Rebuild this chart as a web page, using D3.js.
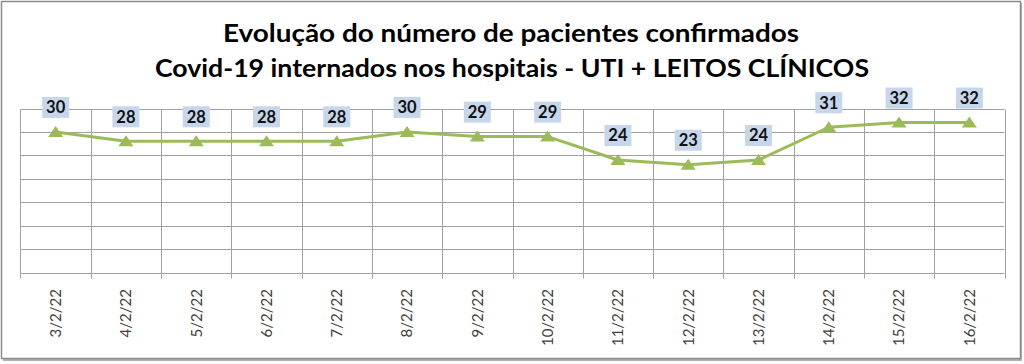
<!DOCTYPE html>
<html><head><meta charset="utf-8">
<script src="https://cdn.jsdelivr.net/npm/d3@7"></script>
<style>html,body{margin:0;padding:0;background:#fff;}svg{display:block;}</style>
</head><body>
<svg id="chart" width="1024" height="364"></svg>
<script>
const titleLines = ["Evolução do número de pacientes confirmados", "Covid-19 internados nos hospitais - UTI + LEITOS CLÍNICOS"];
const categories = ["3/2/22","4/2/22","5/2/22","6/2/22","7/2/22","8/2/22","9/2/22","10/2/22","11/2/22","12/2/22","13/2/22","14/2/22","15/2/22","16/2/22"];
const values = [30,28,28,28,28,30,29,29,24,23,24,31,32,32];
const yTicks = [0,5,10,15,20,25,30,35];

const svg = d3.select("#chart");
const m = {left: 20.5, right: 1004.5, top: 108.5, bottom: 272.5};

// outer frame with shadow
svg.append("rect").attr("x", 3).attr("y", 3).attr("width", 1019).attr("height", 358).attr("fill", "#b0b0b0");
svg.append("rect").attr("x", 1.5).attr("y", 1.5).attr("width", 1019).attr("height", 357)
  .attr("fill", "#fff").attr("stroke", "#8a8a8a").attr("stroke-width", 1.5);

const x = d3.scaleBand().domain(categories).range([m.left, m.right]).padding(0);
const y = d3.scaleLinear().domain([0, 35]).range([m.bottom, m.top]);

// horizontal grid
svg.append("g").selectAll("line").data(yTicks).join("line")
  .attr("x1", m.left).attr("x2", m.right)
  .attr("y1", d => Math.round(y(d)) + 0.5).attr("y2", d => Math.round(y(d)) + 0.5)
  .attr("stroke", "#a0a0a0").attr("stroke-width", 1);

// vertical grid at band boundaries, extending below as tick marks
const bounds = categories.map(c => x(c)).concat([x(categories[categories.length-1]) + x.bandwidth()]);
svg.append("g").selectAll("line").data(bounds).join("line")
  .attr("x1", d => Math.round(d) + 0.5).attr("x2", d => Math.round(d) + 0.5)
  .attr("y1", Math.round(m.top) + 0.5).attr("y2", m.bottom + 6)
  .attr("stroke", "#a0a0a0").attr("stroke-width", 1);

// x labels
svg.append("g").selectAll("text").data(categories).join("text")
  .attr("transform", d => `translate(${x(d) + x.bandwidth()/2},289) rotate(-90)`)
  .attr("text-anchor", "end").attr("dy", "0.36em")
  .attr("font-family", "Lato, 'Open Sans', sans-serif").attr("font-size", 15)
  .attr("fill", "#404040").text(d => d);

const cx = (d, i) => x(categories[i]) + x.bandwidth()/2;

// line
svg.append("path").datum(values)
  .attr("fill", "none").attr("stroke", "#9bbb59").attr("stroke-width", 3).attr("stroke-linejoin", "round")
  .attr("d", d3.line().x((d, i) => cx(d, i)).y(d => y(d)));

// markers
svg.append("g").selectAll("path").data(values).join("path")
  .attr("transform", (d, i) => `translate(${cx(d, i)},${y(d)})`)
  .attr("d", "M0,-6 L7.5,5 L-7.5,5 Z").attr("fill", "#9bbb59");

// data labels
const lg = svg.append("g").selectAll("g").data(values).join("g")
  .attr("transform", (d, i) => `translate(${cx(d, i)},${y(d) - 24.5})`);
lg.append("rect").attr("x", -13.5).attr("y", -10.5).attr("width", 27).attr("height", 21).attr("fill", "#c6d7eb");
lg.append("text").attr("text-anchor", "middle").attr("dy", "0.36em")
  .attr("font-family", "Lato, 'Open Sans', sans-serif").attr("font-weight", "bold").attr("font-size", 16.5)
  .attr("fill", "#111").text(d => d);

// title
const titleCfg = [{cx: 511, y: 42, w: 576}, {cx: 512, y: 77, w: 714}];
svg.append("g").selectAll("text").data(titleLines).join("text")
  .attr("x", (d, i) => titleCfg[i].cx).attr("y", (d, i) => titleCfg[i].y)
  .attr("text-anchor", "middle")
  .attr("font-family", "Lato, 'Open Sans', sans-serif").attr("font-weight", "bold").attr("font-size", 25)
  .attr("textLength", (d, i) => titleCfg[i].w).attr("lengthAdjust", "spacingAndGlyphs")
  .attr("fill", "#000").text(d => d);
</script>
</body></html>
